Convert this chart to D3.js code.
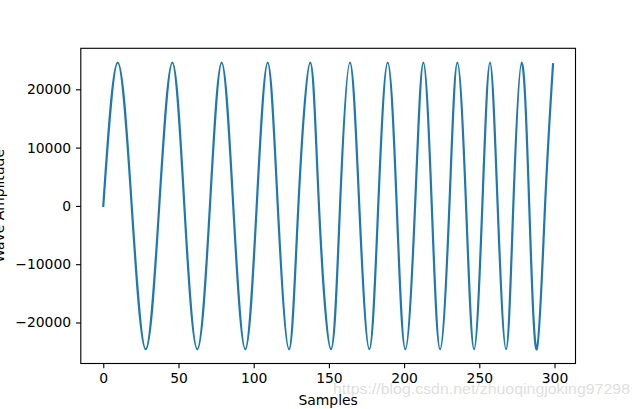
<!DOCTYPE html>
<html>
<head>
<meta charset="utf-8">
<script src="https://cdn.jsdelivr.net/npm/d3@7"></script>
<style>
  body { margin: 0; background: #fff; }
  svg text { font-family: "DejaVu Sans", sans-serif; }
</style>
</head>
<body>
<div id="chart"></div>
<script>
// key points: start, peaks, troughs and zero crossings
var samples = [0, 9.6, 18.9, 28.2, 37.2, 45.9, 53.9, 62.5, 70.9, 78.7, 86.4, 94.4,
  102.0, 109.3, 116.0, 123.5, 129.7, 137.6, 143.4, 151.4, 157.4, 164.0, 170.2, 176.9,
  182.8, 189.1, 195.1, 200.8, 207.3, 212.8, 218.4, 223.9, 230.1, 235.4, 241.2, 246.5,
  252.0, 257.1, 262.2, 267.8, 272.6, 278.2, 283.2, 288.2, 293.7, 299];
var amplitude = [0, 24575, 0, -24575, 0, 24575, 0, -24575, 0, 24575, 0, -24575,
  0, 24575, 0, -24575, 0, 24575, 0, -24575, 0, 24575, 0, -24575,
  0, 24575, 0, -24575, 0, 24575, 0, -24575, 0, 24575, 0, -24575,
  0, 24575, 0, -24575, 0, 24575, 0, -24575, 0, 24300];
var xTicks = [0, 50, 100, 150, 200, 250, 300];
var yTicks = [-20000, -10000, 0, 10000, 20000];

var width = 640, height = 409;
var margin = {top: 48.3, right: 64.5, bottom: 45.5, left: 80.8};

var svg = d3.select("#chart").append("svg")
    .attr("width", width)
    .attr("height", height);

var data = samples.map(function(s, i) { return {n: s, v: amplitude[i]}; });

// matplotlib style 5% margins
var xExt = d3.extent(samples), yExt = d3.extent(amplitude);
var xPad = (xExt[1] - xExt[0]) * 0.05, yPad = (yExt[1] - yExt[0]) * 0.05;

var x = d3.scaleLinear()
    .domain([xExt[0] - xPad, xExt[1] + xPad])
    .range([margin.left, width - margin.right]);
var y = d3.scaleLinear()
    .domain([yExt[0] - yPad, yExt[1] + yPad])
    .range([height - margin.bottom, margin.top]);

var fmt = function(d) { return d < 0 ? "\u2212" + Math.abs(d) : String(d); };

var line = d3.line()
    .x(function(d) { return x(d.n); })
    .y(function(d) { return y(d.v); })
    .curve(d3.curveNatural);

svg.append("path")
    .datum(data)
    .attr("fill", "none")
    .attr("stroke", "#1f77b4")
    .attr("stroke-width", 2.2)
    .attr("stroke-linejoin", "round")
    .attr("stroke-linecap", "square")
    .attr("d", line);

var xAxis = svg.append("g")
    .attr("transform", "translate(0," + (height - margin.bottom) + ")")
    .call(d3.axisBottom(x).tickValues(xTicks).tickFormat(fmt).tickSizeInner(4.86).tickSizeOuter(0).tickPadding(4.6));
var yAxis = svg.append("g")
    .attr("transform", "translate(" + margin.left + ",0)")
    .call(d3.axisLeft(y).tickValues(yTicks).tickFormat(fmt).tickSizeInner(4.86).tickSizeOuter(0).tickPadding(4.86));

[xAxis, yAxis].forEach(function(g) {
  g.select(".domain").remove();
  g.selectAll("line").attr("stroke", "#000").attr("stroke-width", 1.11);
  g.selectAll("text").attr("fill", "#000").attr("font-size", "13.9px")
    .attr("font-family", "DejaVu Sans");
});

// frame (all four spines)
svg.append("rect")
    .attr("x", margin.left)
    .attr("y", margin.top)
    .attr("width", width - margin.left - margin.right)
    .attr("height", height - margin.top - margin.bottom)
    .attr("fill", "none")
    .attr("stroke", "#000")
    .attr("stroke-width", 1.11);

svg.append("text")
    .attr("x", (margin.left + width - margin.right) / 2)
    .attr("y", 404.5)
    .attr("text-anchor", "middle")
    .attr("font-size", "13.9px")
    .text("Samples");

svg.append("text")
    .attr("transform", "translate(3.5," + y(0) + ") rotate(-90)")
    .attr("text-anchor", "middle")
    .attr("font-size", "13.9px")
    .text("Wave Amplitude");

// watermark
svg.append("text")
    .attr("x", 333)
    .attr("y", 393.5)
    .attr("font-size", "15px")
    .attr("textLength", 297)
    .attr("lengthAdjust", "spacingAndGlyphs")
    .style("font-family", "'Liberation Sans', Arial, sans-serif")
    .attr("fill", "#d8d8d8")
    .attr("fill-opacity", 0.85)
    .text("https://blog.csdn.net/zhuoqingjoking97298");
</script>
</body>
</html>
